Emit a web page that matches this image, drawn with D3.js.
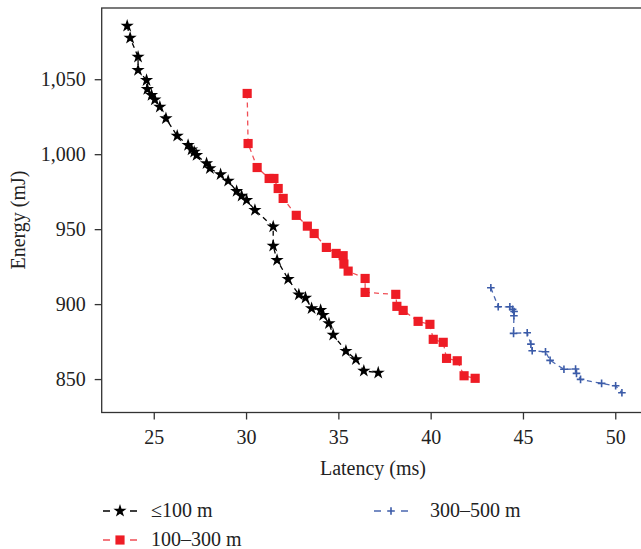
<!DOCTYPE html>
<html>
<head>
<meta charset="utf-8">
<script src="https://cdn.jsdelivr.net/npm/d3@7/dist/d3.min.js"></script>
<style>
  html, body { margin: 0; padding: 0; background: #fff; }
  svg { display: block; font-family: "Liberation Serif", "DejaVu Serif", serif; }
</style>
</head>
<body>
<svg id="chart" width="641" height="549"></svg>
<script>
// ---- data ----
const seriesNames = ["≤100 m", "100–300 m", "300–500 m"];

const nearLatency = [23.56, 23.72, 24.15, 24.15, 24.61, 24.65, 24.88, 25.06, 25.33, 25.66,
  26.27, 26.86, 27.05, 27.19, 27.32, 27.86, 28.04, 28.62, 29.03, 29.49,
  29.76, 30.03, 30.48, 31.47, 31.47, 31.68, 32.28, 32.86, 33.22, 33.55,
  34.04, 34.18, 34.49, 34.72, 35.41, 35.95, 36.38, 37.16];
const nearEnergy = [1085.5, 1077.5, 1064.9, 1056.0, 1049.3, 1043.3, 1039.3, 1036.3, 1031.5, 1023.8,
  1012.2, 1006.0, 1003.1, 1001.5, 999.3, 993.8, 990.5, 986.5, 982.2, 975.3,
  972.2, 969.3, 962.7, 951.7, 938.8, 929.3, 916.7, 906.3, 904.2, 897.1,
  896.0, 892.7, 887.1, 879.5, 868.7, 863.1, 855.5, 854.2];

const midLatency = [30.06, 30.11, 30.60, 31.25, 31.51, 31.74, 32.01, 32.72, 33.32, 33.69,
  34.35, 34.88, 35.26, 35.30, 35.53, 36.45, 36.45, 38.11, 38.17, 38.51,
  39.32, 39.96, 40.14, 40.68, 40.86, 41.44, 41.81, 42.41];
const midEnergy = [1040.5, 1007.1, 991.1, 983.8, 983.8, 977.1, 970.5, 959.2, 952.0, 947.1,
  937.8, 933.8, 932.3, 926.7, 922.0, 917.1, 907.8, 906.5, 898.5, 895.8,
  888.5, 886.5, 876.5, 874.5, 863.8, 862.2, 852.2, 850.5];

const farLatency = [43.26, 43.66, 44.29, 44.44, 44.52, 44.51, 44.49, 45.23, 45.43, 45.50,
  46.22, 46.47, 47.22, 47.85, 47.90, 48.12, 49.26, 50.02, 50.36];
const farEnergy = [910.9, 898.2, 898.2, 896.5, 895.1, 892.2, 880.5, 880.9, 873.3, 868.9,
  868.2, 862.5, 856.5, 856.7, 853.8, 849.8, 847.1, 845.5, 840.9];

const xTicks = [25, 30, 35, 40, 45, 50];
const yTicks = [850, 900, 950, 1000, 1050];
const xTitle = "Latency (ms)";
const yTitle = "Energy (mJ)";

// ---- build ----
const series = [
  { name: seriesNames[0], xs: nearLatency, ys: nearEnergy, marker: "star",   fill: "#000000", line: "#000000" },
  { name: seriesNames[1], xs: midLatency,  ys: midEnergy,  marker: "square", fill: "#ee1c25", line: "#f04e55" },
  { name: seriesNames[2], xs: farLatency,  ys: farEnergy,  marker: "plus",   fill: "#3b5ba8", line: "#4a67b0" }
];

const svg = d3.select("#chart");
const X0 = 101.7, X1 = 644.8, Y0 = 412.5, Y1 = 8;
const x = d3.scaleLinear().domain([22.18, 51.6]).range([X0, X1]);
const y = d3.scaleLinear().domain([827.7, 1097.5]).range([Y0, Y1]);

const axisColor = "#333";
const textColor = "#222";

// frame
svg.append("rect")
  .attr("x", X0).attr("y", Y1)
  .attr("width", X1 - X0).attr("height", Y0 - Y1)
  .attr("fill", "none").attr("stroke", axisColor).attr("stroke-width", 1.3);

const gx = svg.append("g").attr("transform", `translate(0,${Y0})`)
  .call(d3.axisBottom(x).tickValues(xTicks).tickSize(7).tickSizeOuter(0).tickPadding(10));
const gy = svg.append("g").attr("transform", `translate(${X0},0)`)
  .call(d3.axisLeft(y).tickValues(yTicks).tickFormat(d3.format(",")).tickSize(7).tickSizeOuter(0).tickPadding(9));
[gx, gy].forEach(g => {
  g.select(".domain").remove();
  g.selectAll(".tick line").attr("stroke", axisColor).attr("stroke-width", 1.3);
  g.selectAll(".tick text").attr("fill", textColor)
    .style("font-family", '"Liberation Serif", serif').style("font-size", "20px");
});

svg.append("text").attr("x", 373).attr("y", 475).attr("text-anchor", "middle")
  .attr("fill", textColor).style("font-size", "20px").text(xTitle);
svg.append("text").attr("transform", "translate(25,220) rotate(-90)").attr("text-anchor", "middle")
  .attr("fill", textColor).style("font-size", "20px").text(yTitle);

// markers
const starPath = d3.symbol().type(d3.symbolStar).size(54)();
const squarePath = d3.symbol().type(d3.symbolSquare).size(84)();
const plusPath = "M-3.8,0H3.8M0,-3.8V3.8";
function drawMarker(g, s, cx, cy) {
  if (s.marker === "plus") {
    g.append("path").attr("d", plusPath).attr("transform", `translate(${cx},${cy})`)
      .attr("fill", "none").attr("stroke", s.fill).attr("stroke-width", 1.6);
  } else {
    g.append("path").attr("d", s.marker === "star" ? starPath : squarePath)
      .attr("transform", `translate(${cx},${cy})`).attr("fill", s.fill);
  }
}

const line = d3.line().x(d => x(d[0])).y(d => y(d[1]));
series.forEach(s => {
  const pts = s.xs.map((v, i) => [v, s.ys[i]]);
  svg.append("path").datum(pts).attr("d", line)
    .attr("fill", "none").attr("stroke", s.line).attr("stroke-width", 1.3)
    .attr("stroke-dasharray", "5,4");
  const g = svg.append("g");
  pts.forEach(p => drawMarker(g, s, x(p[0]), y(p[1])));
});

// legend
const legendPos = [
  { lx: 103, ly: 511, tx: 151, ty: 517 },
  { lx: 103, ly: 540, tx: 151, ty: 546 },
  { lx: 374, ly: 511, tx: 430, ty: 517 }
];
series.forEach((s, i) => {
  const p = legendPos[i];
  const g = svg.append("g");
  g.append("line").attr("x1", p.lx).attr("x2", p.lx + 34).attr("y1", p.ly).attr("y2", p.ly)
    .attr("stroke", s.line).attr("stroke-width", 1.3).attr("stroke-dasharray", "7,20");
  drawMarker(g, s, p.lx + 17, p.ly);
  g.append("text").attr("x", p.tx).attr("y", p.ty).attr("fill", textColor)
    .style("font-size", "20px").text(s.name);
});
</script>
</body>
</html>
